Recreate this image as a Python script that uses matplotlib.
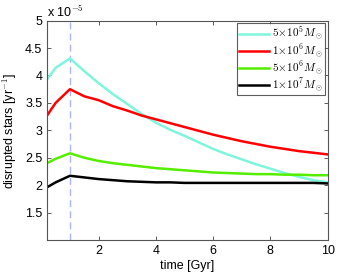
import matplotlib
matplotlib.use("Agg")
import matplotlib.pyplot as plt
from matplotlib.ticker import FixedLocator

plt.rcParams['font.family'] = ['Liberation Sans', 'DejaVu Sans']
plt.rcParams['mathtext.fontset'] = 'cm'

time = [0.2, 0.5, 1.0, 1.5, 2.0, 2.5, 3.0, 3.5, 4.0, 4.5, 5.0, 5.5, 6.0, 6.5, 7.0, 7.5, 8.0, 8.5, 9.0, 9.5, 10.0]
m5e5 = [3.93, 4.14, 4.31, 4.08, 3.86, 3.66, 3.48, 3.30, 3.14, 3.01, 2.90, 2.78, 2.66, 2.56, 2.47, 2.38, 2.30, 2.22, 2.15, 2.09, 2.05]
m1e6 = [3.27, 3.50, 3.75, 3.62, 3.55, 3.44, 3.36, 3.27, 3.20, 3.13, 3.06, 2.99, 2.92, 2.86, 2.80, 2.75, 2.70, 2.66, 2.62, 2.59, 2.56]
m5e6 = [2.40, 2.48, 2.58, 2.50, 2.44, 2.40, 2.37, 2.34, 2.31, 2.29, 2.27, 2.25, 2.23, 2.22, 2.21, 2.20, 2.20, 2.19, 2.19, 2.18, 2.18]
m1e7 = [1.96, 2.05, 2.17, 2.14, 2.11, 2.09, 2.07, 2.06, 2.05, 2.05, 2.04, 2.04, 2.04, 2.04, 2.04, 2.04, 2.04, 2.04, 2.04, 2.04, 2.03]
labels = [r'$5\!\times\!10^5M_\odot$', r'$1\!\times\!10^6M_\odot$',
          r'$5\!\times\!10^6M_\odot$', r'$1\!\times\!10^7M_\odot$']
colors = ['#7ff5dc', '#ff0000', '#55ee00', '#000000']
xticks = [2, 4, 6, 8, 10]
yticks = [1.5, 2, 2.5, 3, 3.5, 4, 4.5, 5]

fig = plt.figure(figsize=(3.62, 2.72), dpi=100)
ax = fig.add_axes([0.130, 0.118, 0.775, 0.806])

ax.axvline(1.0, color='#aab4ff', lw=1.0, ls=(0, (5, 3)), zorder=1)
for y, lab, c in zip([m5e5, m1e6, m5e6, m1e7], labels, colors):
    ax.plot(time, y, color=c, lw=1.8, label=lab, zorder=2)

ax.set_xlim(0.2, 10)
ax.set_ylim(1, 5)
ax.xaxis.set_major_locator(FixedLocator(xticks))
ax.yaxis.set_major_locator(FixedLocator(yticks))
ax.set_xticklabels([str(t) for t in xticks])
ax.set_yticklabels([('%g' % t) for t in yticks])
ax.tick_params(direction='in', top=True, right=True, labelsize=9, length=3, width=0.6, colors='#444444', labelcolor='black')
for s in ax.spines.values():
    s.set_color('#555555')
    s.set_linewidth(0.8)

ax.set_xlabel('time [Gyr]', fontsize=9, labelpad=2)
ax.set_ylabel(r'disrupted stars [yr$^{-1}$]', fontsize=9, labelpad=4)
ax.text(0.0, 1.005, r'x 10$^{-5}$', transform=ax.transAxes, fontsize=9, ha='left', va='bottom', fontfamily='Liberation Sans')

leg = ax.legend(loc='upper right', fontsize=8, frameon=True, fancybox=False,
                borderpad=0.15, labelspacing=0.0, handlelength=2.7, handletextpad=0.3,
                borderaxespad=0.25)
leg.get_frame().set_edgecolor('#333333')
leg.get_frame().set_linewidth(0.8)

fig.savefig('out.png', dpi=100)
